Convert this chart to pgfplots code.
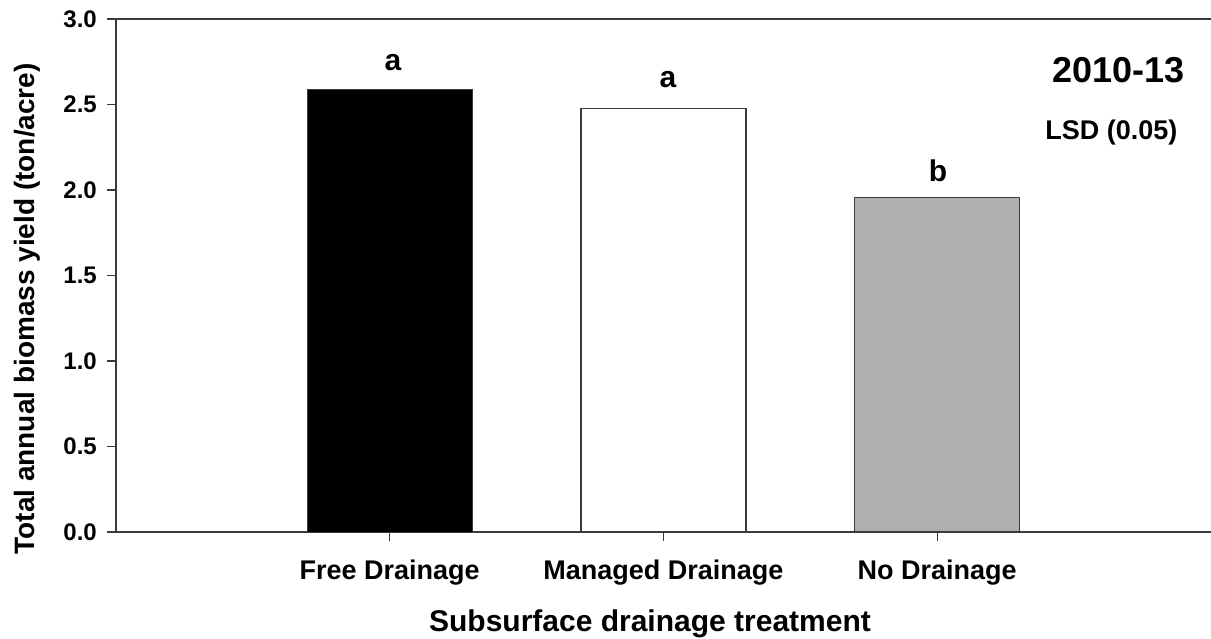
\documentclass[border=0pt]{standalone}
\usepackage{fontspec}
\setmainfont{Liberation Sans}
\usepackage{pgfplots}
\pgfplotsset{compat=1.18}
\definecolor{axgray}{HTML}{3A3A3A}
\definecolor{bargray}{HTML}{B0B0B0}
\begin{document}
\begin{tikzpicture}[x=1pt,y=1pt]
\begin{axis}[
  at={(0,0)}, anchor=south west,
  scale only axis, width=1095pt, height=513pt,
  xmin=0, xmax=4, ymin=0, ymax=3,
  axis lines=left, axis line style={-, axgray, line width=1.5pt},
  xtick={1,2,3}, xticklabels={Free Drainage, Managed Drainage, No Drainage},
  ytick={0,0.5,1,1.5,2,2.5,3},
  tick align=outside, major tick length=9pt,
  tick style={axgray, line width=1.2pt},
  /pgf/number format/fixed, /pgf/number format/fixed zerofill,
  /pgf/number format/precision=1, /pgf/number format/assume math mode=true,
  yticklabel style={font=\fontsize{24}{28}\selectfont\bfseries, anchor=east, inner sep=0pt, xshift=-10pt},
  xticklabel style={font=\fontsize{27}{30}\selectfont\bfseries, anchor=base, inner sep=0pt, yshift=-38pt},
  xlabel={Subsurface drainage treatment},
  xlabel style={font=\fontsize{30}{34}\selectfont\bfseries, at={(rel axis cs:0.4877,0)}, anchor=base, yshift=-99pt, inner sep=0pt},
  ylabel={Total annual biomass yield (ton/acre)},
  ylabel style={font=\fontsize{28}{32}\selectfont\bfseries, at={([xshift=-81pt]rel axis cs:0,0.435)}, anchor=base, inner sep=0pt},
  clip=false,
]
\addplot[ybar, bar width=165pt, bar shift=0pt, fill=black, draw=axgray, line width=1pt] coordinates {(1,2.59)};
\addplot[ybar, bar width=165pt, bar shift=0pt, fill=white, draw=axgray, line width=1.2pt] coordinates {(2,2.475)};
\addplot[ybar, bar width=165pt, bar shift=0pt, fill=bargray, draw=axgray, line width=1.2pt] coordinates {(3,1.955)};
\draw[axgray, line width=1.3pt] (rel axis cs:0,1) -- (rel axis cs:1,1);
\node[anchor=base, font=\fontsize{30}{34}\selectfont\bfseries, inner sep=0pt] at (axis cs:1.012,2.70) {a};
\node[anchor=base, font=\fontsize{30}{34}\selectfont\bfseries, inner sep=0pt] at (axis cs:2.016,2.60) {a};
\node[anchor=base, font=\fontsize{30}{34}\selectfont\bfseries, inner sep=0pt] at (axis cs:3.003,2.047) {b};
\node[anchor=base, font=\fontsize{36}{40}\selectfont\bfseries, inner sep=0pt] at (axis cs:3.662,2.63) {2010-13};
\node[anchor=base, font=\fontsize{27}{30}\selectfont\bfseries, inner sep=0pt] at (axis cs:3.636,2.296) {LSD (0.05)};
\end{axis}
\pgfresetboundingbox
\path[use as bounding box] (-116,-106) rectangle (1095,532);
\end{tikzpicture}
\end{document}
